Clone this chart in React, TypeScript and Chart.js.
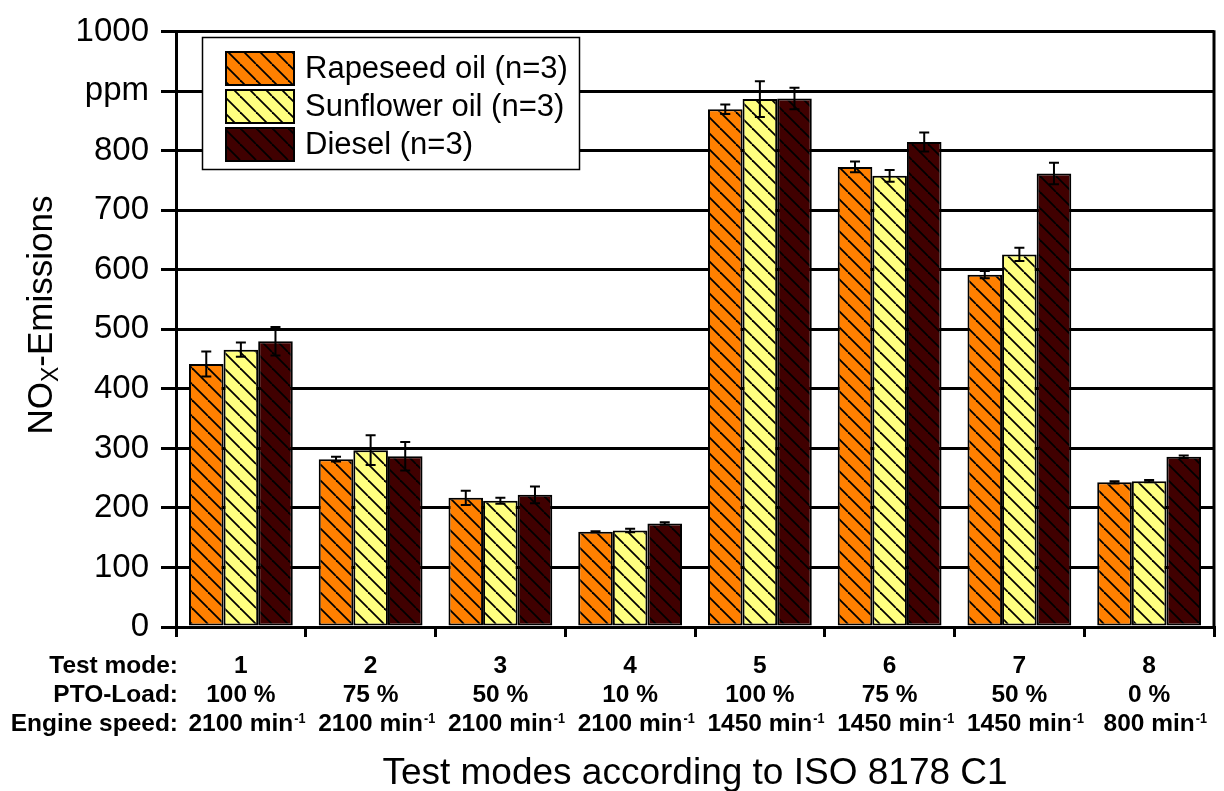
import { useEffect, useRef } from 'react';
import { Chart, registerables } from 'chart.js';

Chart.register(...registerables);

// Test modes (ISO 8178 C1)
const testModes = ['1', '2', '3', '4', '5', '6', '7', '8'];
const ptoLoads = ['100 %', '75 %', '50 %', '10 %', '100 %', '75 %', '50 %', '0 %'];
const engineSpeeds = ['2100', '2100', '2100', '2100', '1450', '1450', '1450', '800'];
const rowLabels = ['Test mode:', 'PTO-Load:', 'Engine speed:'];
const yTickLabels = ['0', '100', '200', '300', '400', '500', '600', '700', '800', 'ppm', '1000'];

// NOx emissions in ppm, mean and spread over n=3 runs
const rapeseed = [442, 282, 217, 160, 870, 773, 592, 243];
const rapeseedErr = [21, 4, 12, 1, 8, 9, 6, 2];
const sunflower = [466, 297, 212, 162, 887, 758, 626, 245];
const sunflowerErr = [12, 25, 5, 3, 30, 10, 11, 2];
const diesel = [480, 287, 222, 174, 888, 815, 762, 286];
const dieselErr = [24, 24, 14, 2, 18, 16, 18, 2];

const seriesLabels = ['Rapeseed oil (n=3)', 'Sunflower oil (n=3)', 'Diesel (n=3)'];
const seriesColors = ['#FF8000', '#FFFF80', '#400000'];

const FONT = '"Liberation Sans", Arial, Helvetica, sans-serif';

function hatch(color: string): CanvasPattern | string {
  const s = 16;
  const c = document.createElement('canvas');
  c.width = s;
  c.height = s;
  const g = c.getContext('2d');
  if (!g) return color;
  g.fillStyle = color;
  g.fillRect(0, 0, s, s);
  g.strokeStyle = '#000';
  g.lineWidth = 1.8;
  for (let k = -1; k <= 1; k++) {
    g.beginPath();
    g.moveTo(k * s, 0);
    g.lineTo(k * s + s, s);
    g.stroke();
  }
  return g.createPattern(c, 'repeat') || color;
}

function scaledText(ctx: CanvasRenderingContext2D, text: string, x: number, y: number, sx: number) {
  ctx.save();
  ctx.translate(x, y);
  ctx.scale(sx, 1);
  ctx.fillText(text, 0, 0);
  ctx.restore();
}

const decorations = {
  id: 'decorations',
  afterDatasetsDraw(chart: any) {
    const ctx: CanvasRenderingContext2D = chart.ctx;
    const y = chart.scales.y;
    const errs = [rapeseedErr, sunflowerErr, dieselErr];
    ctx.save();
    ctx.strokeStyle = '#000';
    ctx.lineWidth = 2;
    chart.data.datasets.forEach((ds: any, d: number) => {
      const meta = chart.getDatasetMeta(d);
      meta.data.forEach((bar: any, i: number) => {
        const v = ds.data[i];
        const e = errs[d][i];
        const yHi = y.getPixelForValue(v + e);
        const yLo = y.getPixelForValue(v - e);
        const cap = 5;
        ctx.beginPath();
        ctx.moveTo(bar.x, yHi);
        ctx.lineTo(bar.x, yLo);
        ctx.moveTo(bar.x - cap, yHi);
        ctx.lineTo(bar.x + cap, yHi);
        ctx.moveTo(bar.x - cap, yLo);
        ctx.lineTo(bar.x + cap, yLo);
        ctx.stroke();
      });
    });
    ctx.restore();
  },
  afterDraw(chart: any) {
    const ctx: CanvasRenderingContext2D = chart.ctx;
    const area = chart.chartArea;
    const xs = chart.scales.x;
    ctx.save();

    // right frame line
    ctx.strokeStyle = '#000';
    ctx.lineWidth = 3;
    ctx.beginPath();
    ctx.moveTo(area.right, area.top - 1.5);
    ctx.lineTo(area.right, area.bottom);
    ctx.stroke();

    // legend
    const lx = 202, ly = 37, lw = 377, lh = 132;
    ctx.fillStyle = '#fff';
    ctx.fillRect(lx, ly, lw, lh);
    ctx.lineWidth = 1.5;
    ctx.strokeRect(lx + 0.5, ly + 0.5, lw, lh);
    chart.data.datasets.forEach((ds: any, d: number) => {
      const sy = 52 + d * 38;
      ctx.fillStyle = ds.backgroundColor;
      ctx.fillRect(226, sy, 68, 33);
      ctx.lineWidth = 2;
      ctx.strokeStyle = '#000';
      ctx.strokeRect(226, sy, 68, 33);
      ctx.fillStyle = '#000';
      ctx.font = `31px ${FONT}`;
      ctx.textAlign = 'left';
      ctx.textBaseline = 'middle';
      ctx.fillText(ds.label, 305, sy + 17);
    });

    // category description rows
    ctx.fillStyle = '#000';
    ctx.textBaseline = 'alphabetic';
    const baselines = [673, 702, 731];
    const sx = 1.02;
    const rowFont = `bold 24px ${FONT}`;
    ctx.font = rowFont;
    ctx.textAlign = 'right';
    rowLabels.forEach((t, r) => scaledText(ctx, t, area.left + 2, baselines[r], sx));
    testModes.forEach((t, i) => {
      const cx = xs.getPixelForValue(i);
      ctx.font = rowFont;
      ctx.textAlign = 'center';
      scaledText(ctx, t, cx, baselines[0], sx);
      scaledText(ctx, ptoLoads[i], cx, baselines[1], sx);
      const base = `${engineSpeeds[i]} min`;
      scaledText(ctx, base, cx, baselines[2], sx);
      const w = ctx.measureText(base).width * sx;
      ctx.font = `bold 14px ${FONT}`;
      ctx.textAlign = 'left';
      scaledText(ctx, '-1', cx + w / 2 + 1, baselines[2] - 8, 0.9);
    });

    // x axis title
    ctx.font = `37px ${FONT}`;
    ctx.textAlign = 'center';
    ctx.fillText('Test modes according to ISO 8178 C1', (area.left + area.right) / 2, 784);

    // y axis title with subscript
    ctx.translate(42, 315);
    ctx.rotate(-Math.PI / 2);
    const big = `35px ${FONT}`;
    const small = `23px ${FONT}`;
    ctx.font = big;
    const w1 = ctx.measureText('NO').width;
    const w3 = ctx.measureText('-Emissions').width;
    ctx.font = small;
    const w2 = ctx.measureText('X').width;
    let px = -(w1 + w2 + w3) / 2;
    ctx.textAlign = 'left';
    ctx.textBaseline = 'middle';
    ctx.font = big;
    ctx.fillText('NO', px, 0);
    px += w1;
    ctx.font = small;
    ctx.fillText('X', px, 10);
    px += w2;
    ctx.font = big;
    ctx.fillText('-Emissions', px, 0);

    ctx.restore();
  },
};

export default function App() {
  const canvasRef = useRef<HTMLCanvasElement | null>(null);

  useEffect(() => {
    const canvas = canvasRef.current;
    if (!canvas) return;
    const values = [rapeseed, sunflower, diesel];
    const chart = new Chart(canvas, {
      type: 'bar',
      data: {
        labels: testModes,
        datasets: values.map((data, d) => ({
          label: seriesLabels[d],
          data,
          backgroundColor: hatch(seriesColors[d]) as any,
          borderColor: '#000',
          borderWidth: 2,
          borderSkipped: false,
          categoryPercentage: 0.8,
          barPercentage: 1,
        })),
      },
      options: {
        responsive: false,
        animation: false,
        devicePixelRatio: 1,
        layout: { padding: { top: 27, right: 10, bottom: 0, left: 0 } },
        plugins: { legend: { display: false }, tooltip: { enabled: false } },
        scales: {
          x: {
            grid: { offset: true, drawOnChartArea: false, color: '#000', lineWidth: 3, tickLength: 10 },
            border: { color: '#000', width: 3 },
            ticks: { display: false },
            afterFit: (s: any) => {
              s.height = 164;
            },
          },
          y: {
            min: 0,
            max: 1000,
            ticks: {
              stepSize: 100,
              color: '#000',
              padding: 12,
              font: { family: FONT, size: 33 },
              callback: (v: any) => yTickLabels[Math.round(Number(v) / 100)],
            },
            grid: { color: '#000', lineWidth: 3, tickLength: 15 },
            border: { color: '#000', width: 3 },
            afterFit: (s: any) => {
              s.width = 176;
            },
          },
        },
      },
      plugins: [decorations],
    });
    return () => chart.destroy();
  }, []);

  return (
    <div style={{ position: 'fixed', left: 0, top: 0, width: 1224, height: 791, background: '#fff' }}>
      <canvas ref={canvasRef} width={1224} height={791} />
    </div>
  );
}
